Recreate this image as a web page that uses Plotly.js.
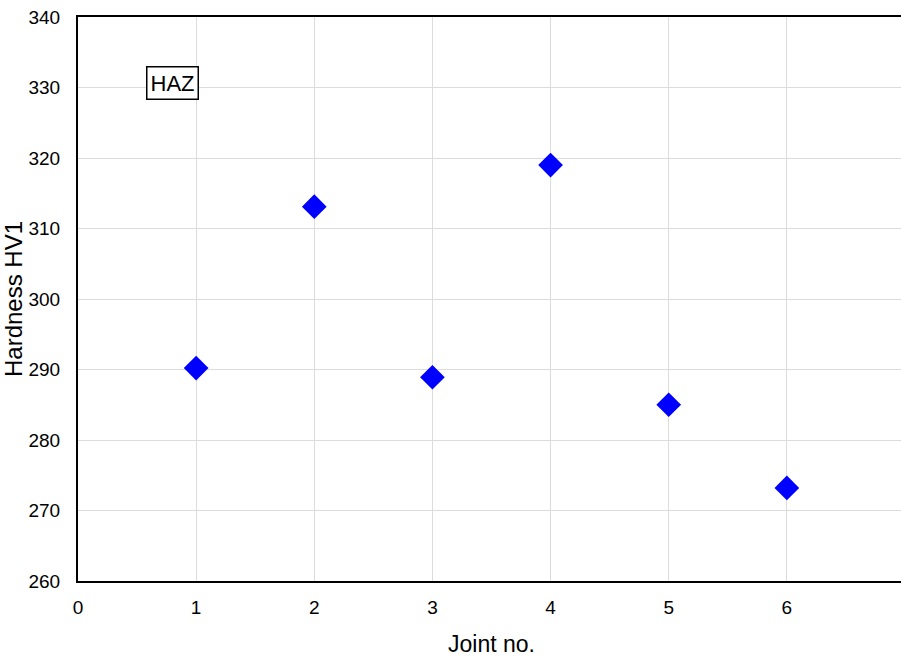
<!DOCTYPE html>
<html>
<head>
<meta charset="utf-8">
<script src="https://cdn.plot.ly/plotly-3.0.1.min.js"></script>
<style>
html,body{margin:0;padding:0;overflow:hidden;background:#fff;}
#chart{width:905px;height:657px;}
</style>
</head>
<body>
<div id="chart"></div>
<script>
const jointNo = [1, 2, 3, 4, 5, 6];
const hardness = [290.2, 313.1, 288.9, 319.0, 285.0, 273.2];
const xTicks = [0, 1, 2, 3, 4, 5, 6, 7];
const yTicks = [260, 270, 280, 290, 300, 310, 320, 330, 340];
const labelText = "HAZ";

const trace = {
  x: jointNo,
  y: hardness,
  type: 'scatter',
  mode: 'markers',
  marker: {symbol: 'diamond', size: 19, color: '#0000ff', line: {width: 0}},
  showlegend: false,
  cliponaxis: false
};

const layout = {
  width: 905,
  height: 657,
  margin: {l: 78, r: 0, t: 17, b: 76},
  paper_bgcolor: '#ffffff',
  plot_bgcolor: '#ffffff',
  font: {family: 'Arial, Liberation Sans, sans-serif', color: '#000'},
  xaxis: {
    range: [0, 7],
    tickvals: xTicks,
    ticktext: xTicks.map(String),
    showgrid: true,
    gridcolor: '#dcdcdc',
    gridwidth: 1,
    zeroline: false,
    showline: true,
    linecolor: '#000',
    linewidth: 2,
    mirror: true,
    ticks: '',
    ticklabelstandoff: 8,
    tickfont: {size: 19},
    title: {text: 'Joint no.', font: {size: 23}}
  },
  yaxis: {
    range: [260, 340],
    tickvals: yTicks,
    ticktext: yTicks.map(String),
    showgrid: true,
    gridcolor: '#dcdcdc',
    gridwidth: 1,
    zeroline: false,
    showline: true,
    linecolor: '#000',
    linewidth: 2,
    mirror: true,
    ticks: '',
    ticklabelstandoff: 12,
    tickfont: {size: 19},
    title: {text: 'Hardness HV1', font: {size: 24}}
  },
  annotations: [{
    x: 0.8, y: 330.6, xref: 'x', yref: 'y',
    text: labelText,
    showarrow: false,
    font: {size: 22, color: '#000'},
    bordercolor: '#000',
    borderwidth: 1.5,
    borderpad: 3,
    bgcolor: '#ffffff'
  }]
};

Plotly.newPlot('chart', [trace], layout, {displayModeBar: false, staticPlot: true});
</script>
</body>
</html>
